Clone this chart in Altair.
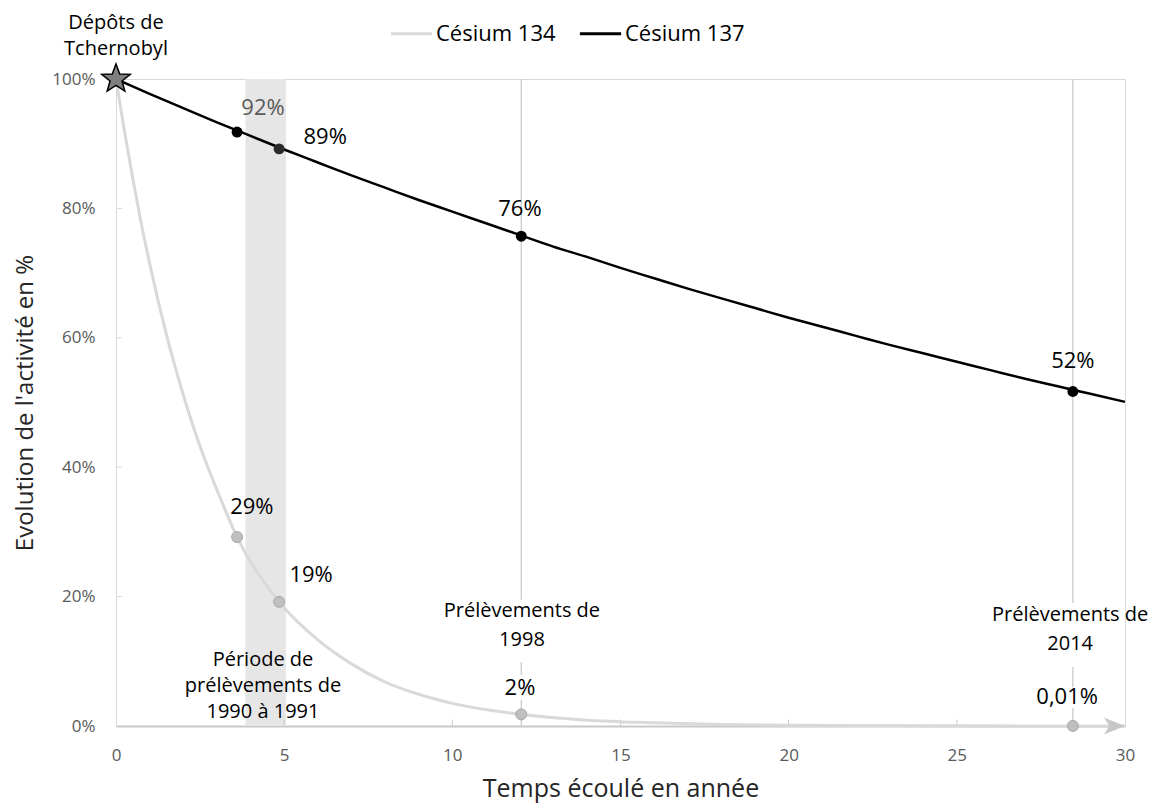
import math
import altair as alt
import pandas as pd

FONT = "Open Sans"

# ---- data ----
t137 = list(range(0, 31))
cs137 = [100, 97.7, 95.5, 93.3, 91.2, 89.1, 87.1, 85.1, 83.2, 81.3, 79.5, 77.7, 75.9,
         74.1, 72.5, 70.8, 69.2, 67.6, 66.1, 64.6, 63.1, 61.7, 60.3, 58.9, 57.6, 56.3,
         55.0, 53.7, 52.5, 51.3, 50.1]

t134 = [0, 0.25, 0.5, 0.75, 1, 1.5, 2, 2.5, 3, 3.6, 4.85, 6, 7, 8, 9, 10, 12.05, 14,
        16, 18, 20, 22, 25, 28.45, 30]
cs134 = [100, 92, 84.6, 77.7, 71.5, 60.5, 51.2, 43.2, 36.5, 29.2, 19.2, 13.3, 9.6, 6.8,
         4.9, 3.5, 1.8, 0.9, 0.5, 0.24, 0.12, 0.06, 0.02, 0.01, 0.004]

pts137_x = [3.6, 4.85, 12.05, 28.45]
pts137_y = [91.8, 89.2, 75.7, 51.7]
pts134_x = [3.6, 4.85, 12.05, 28.45]
pts134_y = [29.2, 19.2, 1.8, 0.01]

lab137_x = [6.22, 12.01, 28.45]
lab137_y = [91.0, 79.9, 56.4]
lab137_t = ["89%", "76%", "52%"]
lab92_x, lab92_y, lab92_t = [4.37], [95.5], ["92%"]
lab134_x = [4.04, 5.8, 12.01, 28.28]
lab134_y = [33.8, 23.3, 5.9, 4.5]
lab134_t = ["29%", "19%", "2%", "0,01%"]

# annotations: y is the position of the first line
ann_x = [0.0, 4.37]
ann_y = [108.6, 10.2]
ann_t = ["Dépôts de\nTchernobyl", "Période de\nprélèvements de\n1990 à 1991"]
pre_x = [12.07, 28.37]
pre_y = [17.7, 17.2]
pre_t = ["Prélèvements de\n1998", "Prélèvements de\n2014"]

band_x, band_x2 = [3.85], [5.05]

vline_x = [12.05, 12.05, 12.05, 28.45, 28.45, 28.45]
vline_y = [19.5, 7.9, 0, 19.0, 6.0, 0]
vline_y2 = [100, 9.9, 4.0, 100, 9.1, 2.8]

xticks = [5, 10, 15, 20, 25]
yticks = [20, 40, 60, 80]

series = ["Césium 134", "Césium 137"]

# ---- symbol shapes (style only) ----
pts = []
for k in range(10):
    r = 1.0 if k % 2 == 0 else 0.42
    a = math.radians(-90 + 36 * k)
    pts.append(f"{r * math.cos(a):.3f},{r * math.sin(a):.3f}")
STAR = "M" + "L".join(pts) + "Z"
ARROW = "M-2,-0.8L0,0L-2,0.8L-1.5,0Z"

# ---- frames ----
df137 = pd.DataFrame({"t": t137, "v": cs137, "s": series[1]})
df134 = pd.DataFrame({"t": t134, "v": cs134, "s": series[0]})
xs = alt.Scale(domain=[0, 30], nice=False)
ys = alt.Scale(domain=[0, 100], nice=False)
col = alt.Scale(domain=series, range=["#d9d9d9", "#000000"])

X = alt.X("t:Q", scale=xs,
          axis=alt.Axis(values=[0, 5, 10, 15, 20, 25, 30], title="Temps écoulé en année",
                        grid=False, ticks=False, labelPadding=21, labelFlush=False,
                        domainColor="#c8c8c8", domainWidth=2, labelFontSize=17,
                        labelColor="#595959", titleFontSize=25, titleFontWeight="normal",
                        titleColor="#262626", titlePadding=13, labelFont=FONT, titleFont=FONT))
Y = alt.Y("v:Q", scale=ys,
          axis=alt.Axis(values=[0, 20, 40, 60, 80, 100], labelExpr="datum.value + '%'",
                        title="Evolution de l'activité en %", grid=False, ticks=False,
                        labelPadding=21, labelFlush=False, domainColor="#d9d9d9", domainWidth=1,
                        labelFontSize=17, labelColor="#595959", titleFontSize=24,
                        titleFontWeight="normal", titleColor="#262626", titlePadding=14,
                        labelFont=FONT, titleFont=FONT))

band = alt.Chart(pd.DataFrame({"t": band_x, "t2": band_x2, "v": [0], "v2": [100]})).mark_rect(
    color="#e6e6e6").encode(x=alt.X("t:Q", scale=xs), x2="t2:Q", y=alt.Y("v:Q", scale=ys), y2="v2:Q")

vlines = alt.Chart(pd.DataFrame({"t": vline_x, "v": vline_y, "v2": vline_y2})).mark_rule(
    color="#c8c8c8", strokeWidth=1.2).encode(x=alt.X("t:Q", scale=xs), y=alt.Y("v:Q", scale=ys), y2="v2:Q")

xtk = alt.Chart(pd.DataFrame({"t": xticks, "v": [0] * 5, "v2": [1.0] * 5})).mark_rule(
    color="#c8c8c8", strokeWidth=1).encode(x=alt.X("t:Q", scale=xs), y=alt.Y("v:Q", scale=ys), y2="v2:Q")
ytk = alt.Chart(pd.DataFrame({"v": yticks, "t": [0] * 4, "t2": [0.18] * 4})).mark_rule(
    color="#d9d9d9", strokeWidth=1).encode(y=alt.Y("v:Q", scale=ys), x=alt.X("t:Q", scale=xs), x2="t2:Q")

line134 = alt.Chart(df134).mark_line(strokeWidth=3, interpolate="monotone").encode(
    x=X, y=Y, color=alt.Color("s:N", scale=col, legend=alt.Legend(title=None)))
line137 = alt.Chart(df137).mark_line(strokeWidth=2.5, interpolate="monotone").encode(
    x=alt.X("t:Q", scale=xs), y=alt.Y("v:Q", scale=ys), color=alt.Color("s:N", scale=col))

p134 = alt.Chart(pd.DataFrame({"t": pts134_x, "v": pts134_y})).mark_point(
    filled=True, size=120, color="#bfbfbf", stroke="#a6a6a6", strokeWidth=1, opacity=1).encode(
    x=alt.X("t:Q", scale=xs), y=alt.Y("v:Q", scale=ys))
p137 = alt.Chart(pd.DataFrame({"t": pts137_x, "v": pts137_y, "k": ["a", "b", "a", "a"]})).mark_point(
    filled=True, size=120, opacity=1).encode(
    x=alt.X("t:Q", scale=xs), y=alt.Y("v:Q", scale=ys),
    fill=alt.Fill("k:N", scale=alt.Scale(domain=["a", "b"], range=["#000000", "#2b2b2b"]), legend=None))

star = alt.Chart(pd.DataFrame({"t": [0.0], "v": [100.0]})).mark_point(
    shape=STAR, filled=True, size=900, color="#7f7f7f", stroke="#000000", strokeWidth=1.5, opacity=1).encode(
    x=alt.X("t:Q", scale=xs), y=alt.Y("v:Q", scale=ys))

arrow = alt.Chart(pd.DataFrame({"t": [30.0], "v": [0.0]})).mark_point(
    shape=ARROW, filled=True, size=441, color="#c8c8c8", opacity=1).encode(
    x=alt.X("t:Q", scale=xs), y=alt.Y("v:Q", scale=ys))

txt137 = alt.Chart(pd.DataFrame({"t": lab137_x, "v": lab137_y, "l": lab137_t})).mark_text(
    font=FONT, fontSize=22, color="#000000").encode(
    x=alt.X("t:Q", scale=xs), y=alt.Y("v:Q", scale=ys), text="l:N")
txt92 = alt.Chart(pd.DataFrame({"t": lab92_x, "v": lab92_y, "l": lab92_t})).mark_text(
    font=FONT, fontSize=22, color="#595959").encode(
    x=alt.X("t:Q", scale=xs), y=alt.Y("v:Q", scale=ys), text="l:N")
txt134 = alt.Chart(pd.DataFrame({"t": lab134_x, "v": lab134_y, "l": lab134_t})).mark_text(
    font=FONT, fontSize=22, color="#000000").encode(
    x=alt.X("t:Q", scale=xs), y=alt.Y("v:Q", scale=ys), text="l:N")
ann = alt.Chart(pd.DataFrame({"t": ann_x, "v": ann_y, "l": ann_t})).mark_text(
    font=FONT, fontSize=20, color="#000000", lineBreak="\n", lineHeight=26, baseline="middle").encode(
    x=alt.X("t:Q", scale=xs), y=alt.Y("v:Q", scale=ys), text="l:N")
pre = alt.Chart(pd.DataFrame({"t": pre_x, "v": pre_y, "l": pre_t})).mark_text(
    font=FONT, fontSize=20, color="#000000", lineBreak="\n", lineHeight=29, baseline="middle").encode(
    x=alt.X("t:Q", scale=xs), y=alt.Y("v:Q", scale=ys), text="l:N")

chart = alt.layer(
    band, vlines, xtk, ytk, line134, p134, line137, p137, star, arrow, txt137, txt92, txt134, ann, pre
).properties(
    width=1009, height=647,
    background="white",
    autosize=alt.AutoSizeParams(type="none"),
    padding={"left": 108, "top": 71, "right": 23, "bottom": 82},
).configure_view(stroke="#d9d9d9", strokeWidth=1).configure_legend(
    orient="none", legendX=273, legendY=-68, direction="horizontal", symbolType="stroke",
    symbolSize=1700, symbolStrokeWidth=3, labelFontSize=22, labelFont=FONT, labelColor="#000000",
    columnPadding=17, labelOffset=2
)

chart.save("out.html", embed_options={"renderer": "svg", "actions": False})
